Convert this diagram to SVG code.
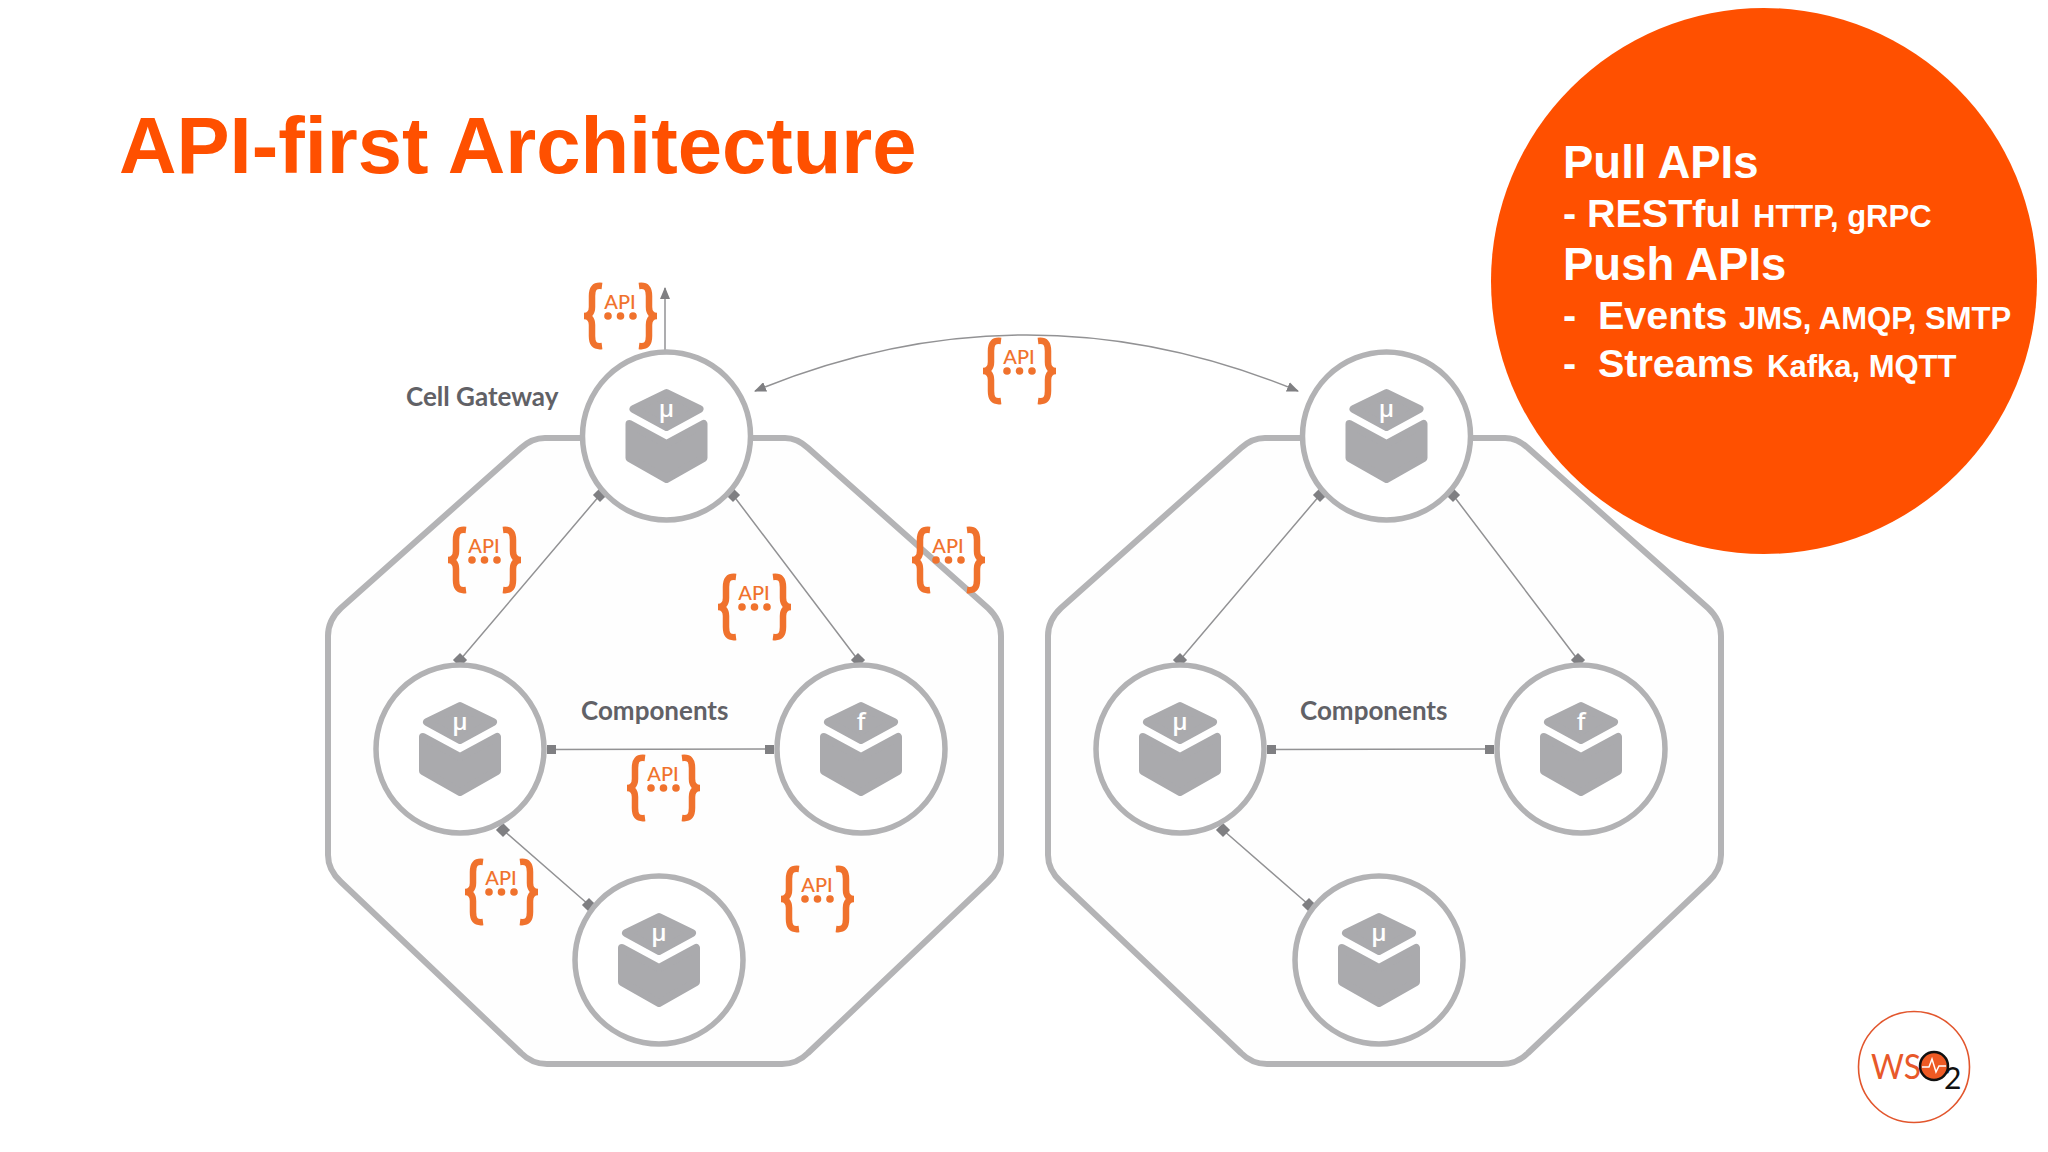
<svg xmlns="http://www.w3.org/2000/svg" width="2048" height="1152" viewBox="0 0 2048 1152">
<style>
.cell{fill:#fefefe;stroke:#b4b4b6;stroke-width:6}
.ring{fill:#fff;stroke:#b2b2b4;stroke-width:5.500}
.cube{fill:#aaaaad;stroke:#aaaaad;stroke-width:8;stroke-linejoin:round}
.glyph{font:600 24px "Open Sans","Liberation Sans",sans-serif;fill:#fff;text-anchor:middle}
.conn{fill:none;stroke:#929294;stroke-width:1.500}
.end{fill:#7f7f82}
.lbl{font:700 26px Lato,"Noto Sans",sans-serif;fill:#616166}
.brace{fill:none;stroke:#f0722d;stroke-width:6.500}
.api{font:500 20px Lato,"Noto Sans",sans-serif;fill:#f0722d;text-anchor:middle}
.dot{fill:#f0722d}
.t{font-family:"Liberation Sans",Arial,sans-serif;font-weight:700;fill:#fff}
.b{font-size:45.500px}.m{font-size:39.500px}.s{font-size:31px}
</style>
<defs>
<marker id="ah" markerWidth="13" markerHeight="10" refX="11" refY="5" orient="auto-start-reverse" markerUnits="userSpaceOnUse"><path d="M0,0L12,5L0,10Z" fill="#7f7f82"/></marker>
<g id="cubeIcon">
<path class="cube" d="M0,-43L33,-27L0,-9L-33,-27Z"/>
<path class="cube" d="M-37,-12L0,8L37,-12V22L0,43L-37,22Z"/>
</g>
<g id="badge">
<path class="brace" d="M-18,-30C-26,-31 -28,-27 -28,-20L-28,-9C-28,-3 -31,0 -36,0C-31,0 -28,3 -28,9L-28,20C-28,27 -26,31 -18,30"/>
<path class="brace" d="M19,-30C27,-31 29,-27 29,-20L29,-9C29,-3 32,0 37,0C32,0 29,3 29,9L29,20C29,27 27,31 19,30"/>
<circle class="dot" cx="-12" cy="0" r="3.800"/><circle class="dot" cx="0.500" cy="0" r="3.800"/><circle class="dot" cx="13" cy="0" r="3.800"/>
</g>
<path id="oct" d="M545,438H785Q797,438 808,448L988,608Q1001,620 1001,636V855Q1001,870 988,882L808,1053Q797,1064 782,1064H547Q532,1064 521,1053L341,882Q328,870 328,855V636Q328,620 341,608L521,448Q532,438 545,438Z"/>
</defs>
<rect width="2048" height="1152" fill="#fff"/>
<text x="119" y="173" font-family="Liberation Sans,Arial,sans-serif" font-weight="700" font-size="79.600" fill="#ff5000">API-first Architecture</text>

<use id="cellLeft" href="#oct" class="cell"/>
<use id="cellRight" href="#oct" class="cell" x="720"/>

<g id="connectors">
<path class="conn" marker-end="url(#ah)" d="M665,350V288"/>
<path class="conn" marker-start="url(#ah)" marker-end="url(#ah)" d="M755,391Q1027,279 1298,391"/>
<path class="conn" d="M600,495L460,660M733,495L858,660M551,749.500L769,749M503,830L589,905"/>
<path class="conn" d="M1320,495L1180,660M1453,495L1578,660M1271,749.500L1489,749M1223,830L1309,905"/>
<g class="end">
<rect x="595" y="490" width="10" height="10" transform="rotate(45 600 495)"/>
<rect x="455" y="655" width="10" height="10" transform="rotate(45 460 660)"/>
<rect x="728" y="490" width="10" height="10" transform="rotate(45 733 495)"/>
<rect x="853" y="655" width="10" height="10" transform="rotate(45 858 660)"/>
<rect x="547" y="745" width="9" height="9"/>
<rect x="765" y="745" width="9" height="9"/>
<rect x="498" y="825" width="10" height="10" transform="rotate(45 503 830)"/>
<rect x="584" y="900" width="10" height="10" transform="rotate(45 589 905)"/>
<rect x="1315" y="490" width="10" height="10" transform="rotate(45 1320 495)"/>
<rect x="1175" y="655" width="10" height="10" transform="rotate(45 1180 660)"/>
<rect x="1448" y="490" width="10" height="10" transform="rotate(45 1453 495)"/>
<rect x="1573" y="655" width="10" height="10" transform="rotate(45 1578 660)"/>
<rect x="1267" y="745" width="9" height="9"/>
<rect x="1485" y="745" width="9" height="9"/>
<rect x="1218" y="825" width="10" height="10" transform="rotate(45 1223 830)"/>
<rect x="1304" y="900" width="10" height="10" transform="rotate(45 1309 905)"/>
</g>
</g>

<g id="gatewayL" transform="translate(666.500,436)"><circle class="ring" r="84"/><use href="#cubeIcon"/><text class="glyph" y="-19">μ</text></g>
<g id="compL1" transform="translate(460,749)"><circle class="ring" r="84"/><use href="#cubeIcon"/><text class="glyph" y="-19">μ</text></g>
<g id="compL2" transform="translate(861,749)"><circle class="ring" r="84"/><use href="#cubeIcon"/><text class="glyph" y="-19">f</text></g>
<g id="compL3" transform="translate(659,960)"><circle class="ring" r="84"/><use href="#cubeIcon"/><text class="glyph" y="-19">μ</text></g>
<g id="gatewayR" transform="translate(1386.500,436)"><circle class="ring" r="84"/><use href="#cubeIcon"/><text class="glyph" y="-19">μ</text></g>
<g id="compR1" transform="translate(1180,749)"><circle class="ring" r="84"/><use href="#cubeIcon"/><text class="glyph" y="-19">μ</text></g>
<g id="compR2" transform="translate(1581,749)"><circle class="ring" r="84"/><use href="#cubeIcon"/><text class="glyph" y="-19">f</text></g>
<g id="compR3" transform="translate(1379,960)"><circle class="ring" r="84"/><use href="#cubeIcon"/><text class="glyph" y="-19">μ</text></g>

<text class="lbl" x="406" y="406">Cell Gateway</text>
<text class="lbl" x="581" y="720">Components</text>
<text class="lbl" x="1300" y="720">Components</text>

<g id="api1" transform="translate(620,316)"><use href="#badge"/><text class="api" y="-7">API</text></g>
<g id="api2" transform="translate(484,560)"><use href="#badge"/><text class="api" y="-7">API</text></g>
<g id="api3" transform="translate(754,607)"><use href="#badge"/><text class="api" y="-7">API</text></g>
<g id="api4" transform="translate(948,560)"><use href="#badge"/><text class="api" y="-7">API</text></g>
<g id="api5" transform="translate(663,788)"><use href="#badge"/><text class="api" y="-7">API</text></g>
<g id="api6" transform="translate(501,892)"><use href="#badge"/><text class="api" y="-7">API</text></g>
<g id="api7" transform="translate(817,899)"><use href="#badge"/><text class="api" y="-7">API</text></g>
<g id="api8" transform="translate(1019,371)"><use href="#badge"/><text class="api" y="-7">API</text></g>

<g id="callout">
<circle cx="1764" cy="281" r="273" fill="#ff5000"/>
<text class="t b" x="1563" y="178">Pull APIs</text>
<text class="t m" x="1563" y="227">-</text><text class="t m" x="1587" y="227">RESTful</text><text class="t s" x="1753" y="227">HTTP, gRPC</text>
<text class="t b" x="1563" y="280">Push APIs</text>
<text class="t m" x="1563" y="329">-</text><text class="t m" x="1598" y="329">Events</text><text class="t s" x="1739" y="329">JMS, AMQP, SMTP</text>
<text class="t m" x="1563" y="377">-</text><text class="t m" x="1598" y="377">Streams</text><text class="t s" x="1767" y="377">Kafka, MQTT</text>
</g>

<g id="logo">
<circle cx="1914" cy="1067" r="55.500" fill="#fff" stroke="#e2562d" stroke-width="1.600"/>
<text x="1871" y="1079" font-family="Lato,Open Sans,sans-serif" font-weight="400" font-size="34" fill="#e8582a" textLength="50" lengthAdjust="spacingAndGlyphs">WS</text>
<circle cx="1934" cy="1066" r="14" fill="#ee5a24" stroke="#111" stroke-width="2.500"/>
<path d="M1922,1067H1929L1932,1059L1936,1072L1939,1066H1946" fill="none" stroke="#fff" stroke-width="1.500"/>
<text x="1944" y="1089" font-family="Lato,Open Sans,sans-serif" font-weight="400" font-size="30" fill="#111">2</text>
</g>
</svg>
